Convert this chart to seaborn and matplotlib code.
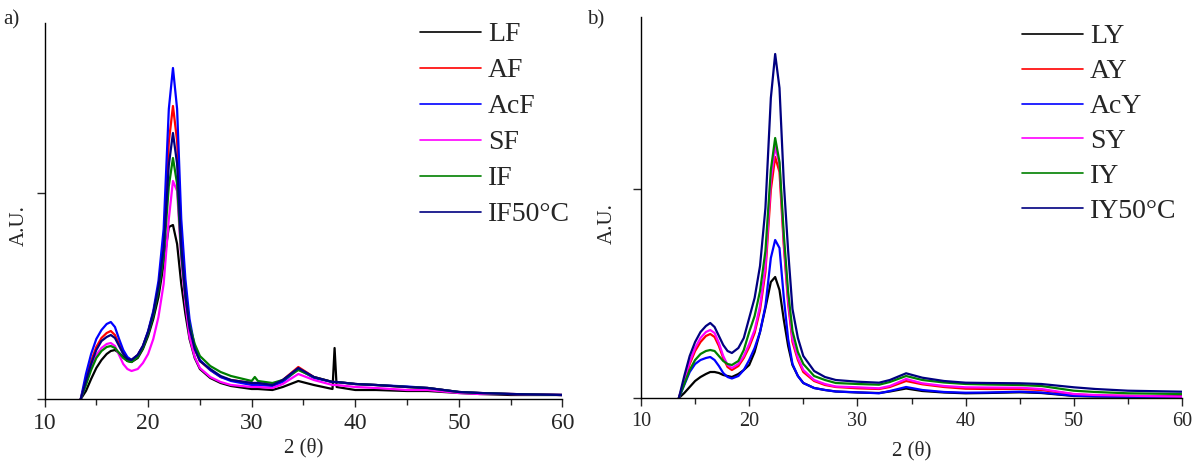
import matplotlib
matplotlib.use("Agg")
import matplotlib.pyplot as plt
import pandas as pd
import seaborn as sns

# ---- panel a) : F samples ----
two_theta_a = [13.5, 14.0, 14.5, 15.0, 15.5, 16.0, 16.4, 16.8, 17.2, 17.6,
               18.0, 18.4, 19.0, 19.5, 20.0, 20.5, 21.0, 21.5, 22.0, 22.4,
               22.8, 23.2, 23.6, 24.0, 24.5, 25.0, 26.0, 27.0, 28.0, 30.0,
               30.3, 30.6, 32.0, 33.0, 34.5, 36.0, 37.8, 38.0, 38.2, 40.0,
               42.0, 45.0, 47.0, 50.0, 52.0, 55.0, 60.0]
LF = [0, 8, 20, 31, 39, 45, 48, 49, 46, 42,
      38, 37, 41, 50, 63, 80, 102, 135, 172, 174,
      155, 115, 85, 60, 41, 30, 21, 16, 13, 10,
      10, 10, 9, 12, 18, 14, 10, 51, 12, 9,
      9, 8, 8, 6, 5, 4, 4]
AF = [0, 20, 38, 52, 61, 66, 68, 64, 55, 46,
      41, 39, 44, 53, 67, 86, 113, 155, 257, 293,
      258, 165, 110, 74, 50, 38, 29, 22, 19, 16,
      16, 16, 14, 19, 32, 22, 17, 17, 17, 15,
      14, 12, 11, 7, 6, 5, 4]
AcF = [0, 25, 45, 60, 69, 75, 77, 72, 60, 49,
       42, 39, 44, 53, 68, 88, 118, 170, 290, 331,
       290, 180, 120, 80, 52, 39, 29, 22, 18, 14,
       14, 14, 13, 17, 30, 21, 17, 17, 17, 15,
       14, 12.5, 11, 7, 6, 5, 4]
SF = [0, 16, 32, 44, 51, 55, 56, 53, 44, 35,
      30, 28, 30, 36, 45, 60, 82, 115, 180, 218,
      208, 140, 95, 62, 42, 31, 22, 17, 14, 12,
      12, 12, 11, 15, 25, 19, 14, 14, 14, 12,
      11, 9, 9, 6, 5, 5, 4]
IF = [0, 14, 29, 41, 48, 52, 53, 51, 46, 41,
      38, 37, 42, 51, 65, 83, 108, 142, 213, 241,
      215, 145, 102, 74, 55, 43, 33, 27, 23, 18,
      22, 18, 16, 19, 29, 22, 17, 17, 17, 15,
      14, 12, 11, 7, 6, 5, 4]
IF50 = [0, 18, 35, 49, 58, 62, 64, 61, 53, 45,
        40, 39, 44, 53, 67, 86, 112, 150, 234, 266,
        235, 152, 104, 71, 50, 38, 30, 23, 19, 16,
        16, 16, 14, 19, 31, 22, 17, 17, 17, 15,
        14, 12, 11, 7, 6, 5, 4]

# ---- panel b) : Y samples ----
two_theta_b = [13.5, 14.0, 14.5, 15.0, 15.5, 16.0, 16.4, 16.8, 17.2, 17.6,
               18.0, 18.4, 19.0, 19.5, 20.0, 20.5, 21.0, 21.5, 22.0, 22.4,
               22.8, 23.2, 23.6, 24.0, 24.5, 25.0, 26.0, 27.0, 28.0, 30.0,
               32.0, 33.0, 34.5, 36.0, 38.0, 40.0, 42.0, 45.0, 47.0, 50.0,
               52.0, 55.0, 60.0]
LY = [0, 5, 11, 17, 21, 24, 26, 26, 25, 23,
      22, 21, 24, 28, 33, 46, 66, 90, 116, 121,
      108, 78, 52, 33, 22, 15, 10, 8, 6.5, 5.5,
      5, 6.5, 9.5, 7, 5.5, 4.7, 5, 5.7, 5, 2,
      1.5, 1.3, 1.3]
AY = [0, 17, 34, 47, 56, 62, 64, 61, 52, 40,
      31, 28, 32, 40, 51, 65, 88, 126, 208, 241,
      226, 152, 94, 56, 38, 26, 17, 13, 11, 9.7,
      9, 11, 17, 13.7, 11, 9.3, 9, 9, 8, 3.7,
      2.5, 2, 2]
AcY = [0, 13, 26, 34, 38, 40, 41, 38, 32, 25,
       21, 19.5, 22, 28, 38, 50, 66, 92, 140, 158,
       150, 100, 59, 34, 22, 15, 10, 8, 6.5, 5.7,
       4.7, 7, 11, 8, 6, 5.3, 5.5, 6.3, 5.5, 2.3,
       1.8, 1.3, 1.3]
SY = [0, 18, 36, 50, 60, 66, 68, 65, 55, 42,
      33, 30, 34, 42, 54, 68, 92, 132, 218, 251,
      234, 156, 98, 59, 40, 28, 18, 14, 11.5, 10.7,
      9.7, 12, 19, 14.7, 12, 10.7, 10.5, 10.3, 9, 4,
      3, 2.3, 1.3]
IY = [0, 14, 28, 38, 44, 47, 48, 47, 42, 37,
      34, 33, 37, 48, 66, 82, 107, 147, 228, 260,
      236, 163, 106, 67, 46, 34, 22, 18, 15, 14,
      13.3, 16, 22, 18, 15.5, 14, 13.5, 13, 12, 7.3,
      6, 4.7, 4]
IY50 = [0, 22, 42, 56, 66, 72, 75, 71, 62, 53,
        47, 45, 50, 60, 80, 100, 132, 190, 300, 344,
        310, 215, 147, 89, 60, 42, 27, 21, 18, 16.3,
        15.3, 18, 24.7, 20.3, 17, 15.3, 15, 14.7, 14, 10.7,
        9, 7.3, 6.3]

names_a = ["LF", "AF", "AcF", "SF", "IF", "IF50°C"]
names_b = ["LY", "AY", "AcY", "SY", "IY", "IY50°C"]
colors = ["#000000", "#ff0000", "#0000ff", "#ff00ff", "#008000", "#000080"]


def long_form(x, names, series):
    frames = []
    for name, y in zip(names, series):
        frames.append(pd.DataFrame({"two_theta": x, "intensity": y, "sample": name}))
    return pd.concat(frames, ignore_index=True)


df_a = long_form(two_theta_a, names_a, [LF, AF, AcF, SF, IF, IF50])
df_b = long_form(two_theta_b, names_b, [LY, AY, AcY, SY, IY, IY50])

sns.set_style("ticks")
plt.rcParams["font.family"] = ["Liberation Serif", "DejaVu Serif"]

W, H = 1201, 463
fig = plt.figure(figsize=(W / 100, H / 100), dpi=100)
ax_a = fig.add_axes([44.5 / W, 1 - 399 / H, 518 / W, 376 / H])
ax_b = fig.add_axes([641 / W, 1 - 398 / H, 541 / W, 381 / H])

panels = [
    (ax_a, df_a, names_a, 376, 206, 17, 420, 22, 0.38, -0.104, -0.030, 0.46),
    (ax_b, df_b, names_b, 381, 209, 14.5, 1022, 24, 0.34, -0.113, -0.044, 0.457),
]
for ax, df, names, ytop, ymid, tsize, leg_x, leg_y, lsp, xl_y, yl_x, yl_y in panels:
    sns.lineplot(data=df, x="two_theta", y="intensity", hue="sample",
                 hue_order=names, palette=colors, estimator=None, sort=False,
                 lw=1.6, ax=ax)
    ax.set_xlim(10, 60)
    ax.set_ylim(0, ytop)
    ax.set_xticks(range(10, 61, 10))
    ax.set_xticks(range(15, 60, 10), minor=True)
    ax.set_yticks([0, ymid])
    ax.set_yticklabels([])
    ax.tick_params(axis="x", which="major", length=6, width=1, labelsize=tsize, pad=4)
    ax.tick_params(axis="x", which="minor", length=4, width=1)
    ax.tick_params(axis="y", length=6, width=1)
    sns.despine(ax=ax)
    for sp in ("left", "bottom"):
        ax.spines[sp].set_color("black")
        ax.spines[sp].set_linewidth(1)
    ax.set_xlabel("2 (θ)", fontsize=15)
    ax.xaxis.set_label_coords(0.5, xl_y)
    ax.set_ylabel("A.U.", fontsize=15)
    ax.yaxis.set_label_coords(yl_x, yl_y)
    leg = ax.legend(loc="upper left", bbox_to_anchor=(leg_x / W, 1 - leg_y / H),
                    bbox_transform=fig.transFigure, frameon=False, fontsize=20,
                    handlelength=2.2, handletextpad=0.25, labelspacing=lsp,
                    borderpad=0, borderaxespad=0)
    for line in leg.get_lines():
        line.set_linewidth(1.2)

fig.text(3 / W, 1 - 10 / H, "a)", fontsize=15, va="top", ha="left")
fig.text(587 / W, 1 - 10 / H, "b)", fontsize=15, va="top", ha="left")

fig.savefig("out.png", dpi=100)
